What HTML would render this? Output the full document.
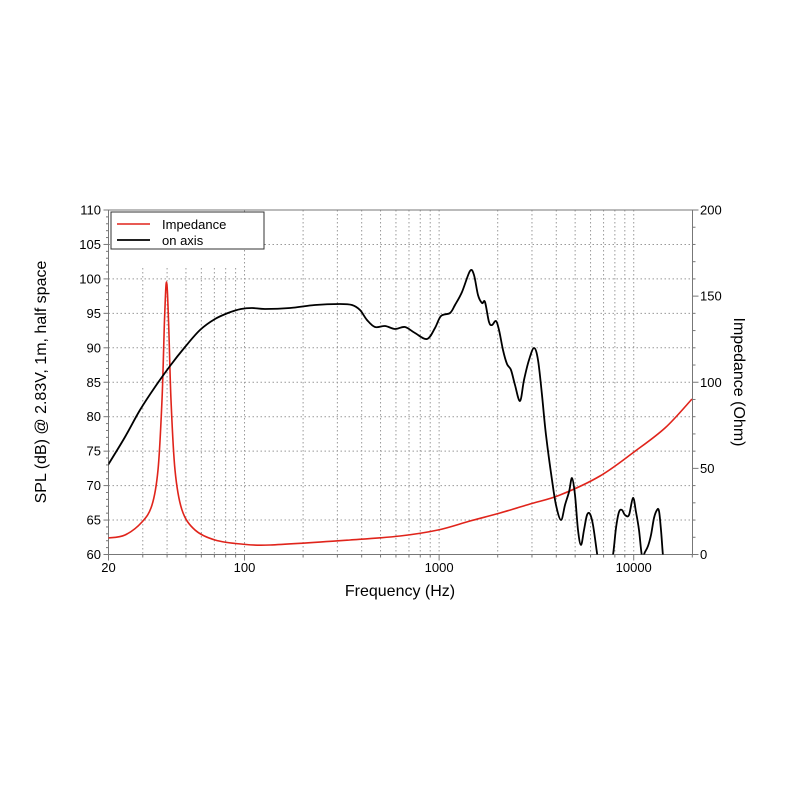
<!DOCTYPE html>
<html><head><meta charset="utf-8"><style>
html,body{margin:0;padding:0;background:#fff;}
svg{display:block;font-family:"Liberation Sans",Arial,sans-serif;}
</style></head><body>
<svg id="s" width="800" height="800" viewBox="0 0 800 800" xmlns="http://www.w3.org/2000/svg">
<defs><clipPath id="c"><rect x="108.5" y="210" width="584" height="344.5"/></clipPath></defs>
<g id="grid" stroke="#999" stroke-width="1" stroke-dasharray="1.5,2.5" fill="none"></g>
<g id="ticks" stroke="#777" stroke-width="1" fill="none"></g>
<rect x="108.5" y="210" width="584" height="344.5" fill="none" stroke="#777" stroke-width="1"/>
<g clip-path="url(#c)">
<path id="red" fill="none" stroke="#e0241b" stroke-width="1.6"/>
<path id="blk" fill="none" stroke="#000" stroke-width="1.8"/>
</g>
<rect x="111" y="212" width="153" height="37" fill="#fff" stroke="#333" stroke-width="1"/>
<line x1="117" y1="224" x2="150" y2="224" stroke="#e0241b" stroke-width="1.6"/>
<line x1="117" y1="240" x2="150" y2="240" stroke="#000" stroke-width="1.8"/>
<text x="162" y="229" font-size="13">Impedance</text>
<text x="162" y="245" font-size="13">on axis</text>
<g id="lab" font-size="13" fill="#000"></g>
<text x="400" y="596" font-size="16" text-anchor="middle">Frequency (Hz)</text>
<text transform="translate(46,382) rotate(-90)" font-size="16" text-anchor="middle">SPL (dB) @ 2.83V, 1m, half space</text>
<text transform="translate(734,382) rotate(90)" font-size="16" text-anchor="middle">Impedance (Ohm)</text>
</svg>
<script>
var L=108.5,R=692.5,T=210,B=554.5,D=194.6;
function X(f){return L+D*Math.log10(f/20);}
function Y(db){return B-(db-60)*(B-T)/50;}
var g=document.getElementById('grid'),tk=document.getElementById('ticks'),lab=document.getElementById('lab');
var h='',t='',l='';
[20,30,40,50,60,70,80,90,100,200,300,400,500,600,700,800,900,1000,2000,3000,4000,5000,6000,7000,8000,9000,10000,20000].forEach(function(f){
 var x=X(f);if(f>20&&f<20000){var top=(f<100)?268:T;h+='<line x1="'+x+'" y1="'+top+'" x2="'+x+'" y2="'+B+'"/>';}
 t+='<line x1="'+x+'" y1="'+B+'" x2="'+x+'" y2="'+(B+([20,100,1000,10000].indexOf(f)>=0?6:3))+'"/>';
});
[20,100,1000,10000].forEach(function(f){l+='<text x="'+X(f)+'" y="572" text-anchor="middle">'+f+'</text>';});
for(var d=60;d<=110;d++){var y=Y(d);
 if(d%5==0){if(d>60&&d<110)h+='<line x1="'+L+'" y1="'+y+'" x2="'+R+'" y2="'+y+'"/>';t+='<line x1="'+(L-5)+'" y1="'+y+'" x2="'+L+'" y2="'+y+'"/>';l+='<text x="101" y="'+(y+4.5)+'" text-anchor="end">'+d+'</text>';}
 else t+='<line x1="'+(L-2.5)+'" y1="'+y+'" x2="'+L+'" y2="'+y+'"/>';}
for(var o=0;o<=200;o+=10){var y=B-o*(B-T)/200;
 t+='<line x1="'+R+'" y1="'+y+'" x2="'+(R+(o%50==0?6:3))+'" y2="'+y+'"/>';
 if(o%50==0)l+='<text x="700" y="'+(y+4.5)+'">'+o+'</text>';}
g.innerHTML=h;tk.innerHTML=t;lab.innerHTML=l;
function cr(p){var s='M'+p[0][0]+','+p[0][1];for(var i=0;i<p.length-1;i++){var p0=p[i-1]||p[i],p1=p[i],p2=p[i+1],p3=p[i+2]||p2;
 s+=' C'+(p1[0]+(p2[0]-p0[0])/6).toFixed(1)+','+(p1[1]+(p2[1]-p0[1])/6).toFixed(1)+' '+(p2[0]-(p3[0]-p1[0])/6).toFixed(1)+','+(p2[1]-(p3[1]-p1[1])/6).toFixed(1)+' '+p2[0]+','+p2[1];}return s;}
var red=[[108,538],[125,535],[142,522],[152,505],[158,470],[162,400],[164.5,320],[166.5,282],[168.5,320],[171,400],[175,470],[182,510],[195,530],[215,540],[241,544],[270,545],[350,540],[400,536],[438,530],[470,521],[500,513],[530,504],[560,495],[600,476],[634,452],[665,428],[692,399]];
var blk=[[108,465],[125,437],[140,410],[155,387],[170,366],[185,347],[200,330],[215,319],[228,313],[241,309],[252,308],[265,309],[290,308],[315,305],[340,304],[352,305],[360,310],[367,320],[375,327],[385,326],[395,329],[405,327],[415,333],[427,339],[435,328],[441,316],[450,313],[455,305],[462,292],[470,271],[474,275],[478,295],[482,303],[485,302],[489,322],[492,325],[496,321],[499,330],[503,350],[507,364],[511,370],[515,385],[520,401],[524,380],[529,360],[534,348],[538,360],[542,395],[546,435],[552,480],[556,505],[561,520],[565,505],[569,492],[572,478],[575,495],[578,530],[581,545],[584,530],[587,515],[590,514],[593,525],[597,553],[600,575],[609,575],[613,555],[616,528],[619,512],[622,510],[625,515],[629,515],[633,498],[636,512],[639,530],[642,556],[645,552],[648,546],[651,535],[654,518],[657,510],[659,511],[661,530],[663,556],[665,575]];
document.getElementById('red').setAttribute('d',cr(red));
document.getElementById('blk').setAttribute('d',cr(blk));
</script>
</body></html>
